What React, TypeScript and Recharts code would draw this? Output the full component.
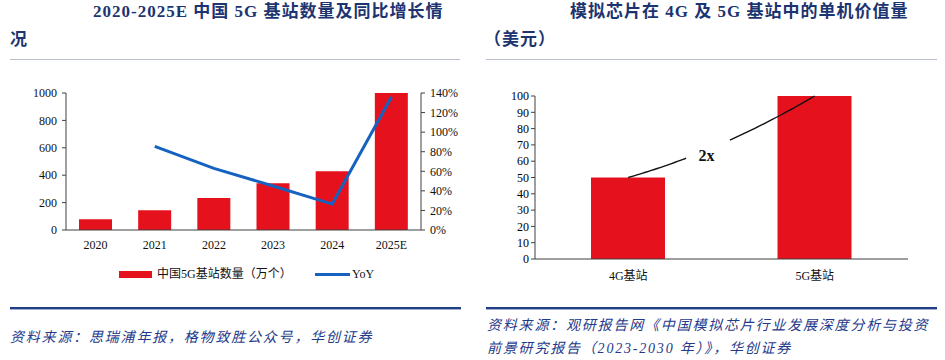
import { ComposedChart, Bar, Line, XAxis, YAxis } from 'recharts';

// left chart: 5G base stations (10k) and YoY
const years = ['2020', '2021', '2022', '2023', '2024', '2025E'];
const stations = [78, 144, 234, 341, 428, 1000];
const yoy = [null, 85.5, 63, 45, 26.5, 136];
const stationTicks = [0, 200, 400, 600, 800, 1000];
const pctTicks = [0, 20, 40, 60, 80, 100, 120, 140];

// right chart: analog chip value per base station (USD)
const chipCats = ['4G基站', '5G基站'];
const chipValues = [50, 100];
const valueTicks = [0, 10, 20, 30, 40, 50, 60, 70, 80, 90, 100];

const RED = '#E5121D';
const BLUE = '#1562C0';
const AXIS = '#404040';
const NAVY = '#1C3470';
const SERIF = '"Liberation Serif", "Times New Roman", "Noto Sans CJK SC", serif';

const tickStyle = { fill: '#111', fontSize: 12, fontFamily: SERIF };

const leftData = years.map((year, i) => ({ year, stations: stations[i], yoy: yoy[i] }));
const rightData = chipCats.map((name, i) => ({ name, value: chipValues[i] }));

// quadratic curve between the two bar tops, with a gap left open for the "2x" label
const BEND = 14;
const GAP_FROM = 0.31;
const GAP_TO = 0.545;
const gapCurve = (ctx: any) => {
  let pts: [number, number][] = [];
  return {
    areaStart() {},
    areaEnd() {},
    lineStart() {
      pts = [];
    },
    point(x: number, y: number) {
      pts.push([x, y]);
    },
    lineEnd() {
      if (pts.length < 2) return;
      const a = pts[0];
      const b = pts[pts.length - 1];
      const c = [(a[0] + b[0]) / 2, (a[1] + b[1]) / 2 + BEND];
      const at = (t: number) => {
        const u = 1 - t;
        return [u * u * a[0] + 2 * u * t * c[0] + t * t * b[0], u * u * a[1] + 2 * u * t * c[1] + t * t * b[1]];
      };
      const seg = (t0: number, t1: number) => {
        const p0 = at(t0);
        ctx.moveTo(p0[0], p0[1]);
        for (let i = 1; i <= 20; i++) {
          const p = at(t0 + ((t1 - t0) * i) / 20);
          ctx.lineTo(p[0], p[1]);
        }
      };
      seg(0, GAP_FROM);
      seg(GAP_TO, 1);
    },
  };
};

const renderTwoX = (p: any) => {
  const { index, points } = p;
  if (index !== 0 || !points || points.length < 2) return <g key={`d-${index}`} />;
  const a = points[0];
  const b = points[1];
  const x = a.x + (b.x - a.x) * 0.42;
  const y = a.y + (b.y - a.y) * 0.42 + 12;
  return (
    <text key="two-x" x={x} y={y} textAnchor="middle" dominantBaseline="central"
      fontFamily={SERIF} fontWeight="bold" fontSize={16} fill="#111">
      2x
    </text>
  );
};

const abs = (left: number, top: number, extra: any = {}) => ({ position: 'absolute' as const, left, top, ...extra });

export default function App() {
  const edgeLeft = years.map((_, i) => i).concat(years.length);
  const edgeRight = chipCats.map((_, i) => i).concat(chipCats.length);
  const titleStyle = { fontFamily: SERIF, fontWeight: 'bold', fontSize: 17, color: NAVY, letterSpacing: 1, whiteSpace: 'nowrap' as const, lineHeight: '20px' };
  const srcStyle = { fontFamily: SERIF, fontStyle: 'italic', fontSize: 14, color: '#24398A', letterSpacing: 1.8, whiteSpace: 'nowrap' as const, lineHeight: '18px' };

  return (
    <div style={{ position: 'absolute', left: 0, top: 0, width: 945, height: 360, background: '#fff', overflow: 'hidden' }}>
      {/* titles */}
      <div style={abs(93, 2, titleStyle)}>2020-2025E 中国 5G 基站数量及同比增长情</div>
      <div style={abs(10, 30, titleStyle)}>况</div>
      <div style={abs(570, 2, titleStyle)}>模拟芯片在 4G 及 5G 基站中的单机价值量</div>
      <div style={abs(484, 30, titleStyle)}>（美元）</div>
      <div style={abs(10, 59, { width: 450, height: 1, background: '#B8BDCB' })} />
      <div style={abs(486, 59, { width: 451, height: 1, background: '#B8BDCB' })} />

      {/* left chart */}
      <div style={abs(0, 80)}>
        <ComposedChart width={470} height={180} data={leftData} margin={{ top: 13, right: 0, bottom: 0, left: 0 }}>
          <XAxis xAxisId="edge" type="number" domain={[0, years.length]} ticks={edgeLeft} allowDataOverflow
            tick={false} axisLine={false} tickLine={{ stroke: AXIS }} tickSize={4} height={0} />
          <XAxis dataKey="year" height={30} interval={0} tickLine={false} tickSize={4} tickMargin={6}
            axisLine={{ stroke: AXIS }} tick={tickStyle} />
          <YAxis yAxisId="left" domain={[0, 1000]} ticks={stationTicks} interval={0} width={66} tickSize={4} tickMargin={5}
            axisLine={{ stroke: AXIS }} tickLine={{ stroke: AXIS }} tick={tickStyle} />
          <YAxis yAxisId="right" orientation="right" domain={[0, 140]} ticks={pctTicks} interval={0} width={49} tickSize={4} tickMargin={5}
            tickFormatter={(v: number) => `${v}%`} axisLine={{ stroke: AXIS }} tickLine={{ stroke: AXIS }} tick={tickStyle} />
          <Bar yAxisId="left" dataKey="stations" fill={RED} barSize={33} isAnimationActive={false} />
          <Line yAxisId="right" dataKey="yoy" type="linear" stroke={BLUE} strokeWidth={3} dot={false} isAnimationActive={false} />
        </ComposedChart>
      </div>

      {/* left legend */}
      <div style={abs(119, 271, { width: 33, height: 7, background: RED })} />
      <div style={abs(157, 266, { fontFamily: SERIF, fontSize: 12, color: '#111', lineHeight: '16px', whiteSpace: 'nowrap' })}>中国5G基站数量（万个）</div>
      <div style={abs(315, 273, { width: 35, height: 3, background: BLUE })} />
      <div style={abs(352, 266, { fontFamily: SERIF, fontSize: 12, color: '#111', lineHeight: '16px' })}>YoY</div>

      {/* right chart */}
      <div style={abs(470, 80)}>
        <ComposedChart width={475} height={209} data={rightData} margin={{ top: 16, right: 37, bottom: 0, left: 0 }}>
          <XAxis xAxisId="edge" type="number" domain={[0, chipCats.length]} ticks={edgeRight} allowDataOverflow
            tick={false} axisLine={false} tickLine={{ stroke: AXIS }} tickSize={4} height={0} />
          <XAxis dataKey="name" height={30} interval={0} tickLine={false} tickSize={4} tickMargin={8}
            axisLine={{ stroke: AXIS }} tick={tickStyle} />
          <YAxis domain={[0, 100]} ticks={valueTicks} interval={0} width={65} tickSize={4} tickMargin={2}
            axisLine={{ stroke: AXIS }} tickLine={{ stroke: AXIS }} tick={{ ...tickStyle, fill: '#000' }} />
          <Bar dataKey="value" fill={RED} barSize={74} isAnimationActive={false} />
          <Line dataKey="value" type={gapCurve as any} stroke="#111" strokeWidth={1.4} dot={renderTwoX} isAnimationActive={false} />
        </ComposedChart>
      </div>

      {/* sources */}
      <div style={abs(10, 307, { width: 451, height: 2, background: '#1F3F85', borderBottom: '1px solid #A3B0D0' })} />
      <div style={abs(486, 307, { width: 451, height: 2, background: '#1F3F85', borderBottom: '1px solid #A3B0D0' })} />
      <div style={abs(10, 329, srcStyle)}>资料来源：思瑞浦年报，格物致胜公众号，华创证券</div>
      <div style={abs(487, 317, srcStyle)}>资料来源：观研报告网《中国模拟芯片行业发展深度分析与投资</div>
      <div style={abs(487, 340, srcStyle)}>前景研究报告（2023-2030 年）》，华创证券</div>
    </div>
  );
}
